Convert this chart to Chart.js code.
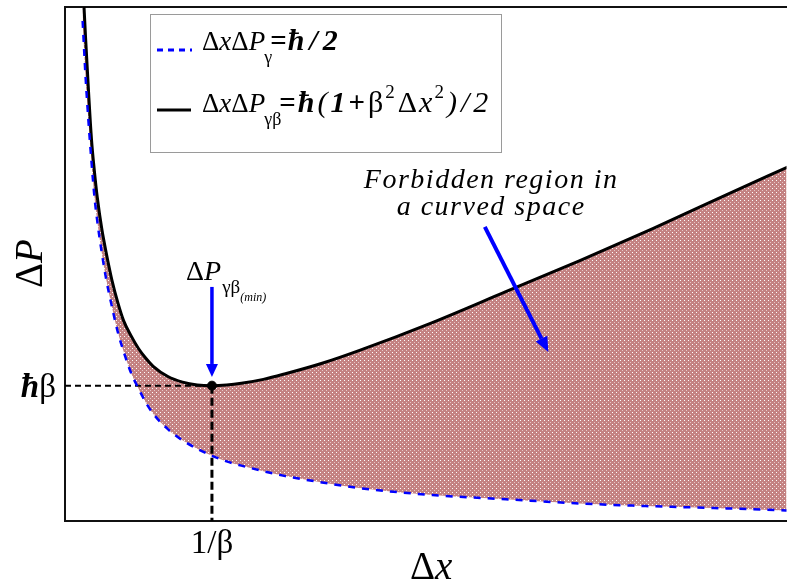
<!DOCTYPE html>
<html><head><meta charset="utf-8">
<script src="https://cdn.jsdelivr.net/npm/chart.js@4.4.1/dist/chart.umd.min.js"></script>
<style>html,body{margin:0;padding:0;background:#fff;}canvas{display:block;}</style>
</head><body>
<canvas id="c" width="792" height="586"></canvas>
<script>
// ---- data (units: x in 1/β, y in ħβ) ----
const dx = [0.12,0.14,0.16,0.18,0.20,0.22,0.25,0.28,0.32,0.36,0.40,0.45,0.50,0.55,0.60,0.70,0.80,0.90,1.00,1.10,1.20,1.35,1.50,1.75,2.00,2.50,3.00,3.50,4.00,4.50,4.92];
const dpGamma = [3.60,3.20,2.88,2.60,2.35,2.17,1.95,1.76,1.56,1.38,1.24,1.09,0.98,0.88,0.80,0.69,0.61,0.55,0.50,0.46,0.43,0.39,0.355,0.31,0.27,0.22,0.19,0.16,0.14,0.125,0.11];
const dpGammaBeta = [3.90,3.48,3.10,2.76,2.53,2.34,2.12,1.95,1.75,1.59,1.46,1.355,1.265,1.195,1.138,1.065,1.025,1.005,1.00,1.005,1.017,1.045,1.085,1.16,1.25,1.45,1.67,1.89,2.12,2.36,2.56];
const minPoint = [1, 1];
const xTickValues = [1];
const xTickLabels = ['1/β'];
const yTickValues = [1];
const yTickLabels = ['ħβ'];
const xRange = [0, 4.91];
const yRange = [0.035, 3.7];
const xTitle = ['Δ', 'x'];
const yTitle = ['Δ', 'P'];
const legendLabels = ['ΔxΔP_γ=ħ/2', 'ΔxΔP_γβ=ħ(1+β²Δx²)/2'];
const noteText = ['Forbidden region in', 'a curved space'];
const noteAt = [2.9, 2.41];
const noteArrow = [[2.857, 2.132], [3.289, 1.24]];
const minArrow = [[1, 1.704], [1, 1.062]];
const minLabelAt = [0.824, 1.754];

const SERIF = '"Liberation Serif","Times New Roman",serif';
const f = (style, size) => style + ' ' + size + 'px ' + SERIF;

function makePattern() {
  const p = document.createElement('canvas');
  p.width = 4; p.height = 4;
  const g = p.getContext('2d');
  g.fillStyle = 'rgb(196,130,130)'; g.fillRect(0, 0, 4, 4);
  g.fillStyle = '#ffffff'; g.fillRect(0, 0, 1, 1);
  g.fillStyle = 'rgb(232,200,200)'; g.fillRect(2, 2, 1, 1);
  return document.getElementById('c').getContext('2d').createPattern(p, 'repeat');
}

function runs(ctx, x, y, list) {
  for (const r of list) {
    ctx.font = r.f;
    ctx.letterSpacing = (r.ls || 0) + 'px';
    ctx.fillText(r.t, x + (r.dx || 0), y + (r.dy || 0));
    x += ctx.measureText(r.t).width + (r.dx || 0);
  }
  ctx.letterSpacing = '0px';
  return x;
}

function arrow(ctx, x1, y1, x2, y2, w, hl, hw) {
  const ang = Math.atan2(y2 - y1, x2 - x1);
  const bx = x2 - hl * Math.cos(ang), by = y2 - hl * Math.sin(ang);
  ctx.strokeStyle = '#0000ff'; ctx.fillStyle = '#0000ff'; ctx.lineWidth = w;
  ctx.setLineDash([]);
  ctx.beginPath(); ctx.moveTo(x1, y1); ctx.lineTo(bx, by); ctx.stroke();
  ctx.beginPath();
  ctx.moveTo(x2, y2);
  ctx.lineTo(bx + hw / 2 * Math.sin(ang), by - hw / 2 * Math.cos(ang));
  ctx.lineTo(bx - hw / 2 * Math.sin(ang), by + hw / 2 * Math.cos(ang));
  ctx.closePath(); ctx.fill();
}

const annot = {
  id: 'annot',
  afterDraw(chart) {
    const { ctx, chartArea: a, scales: { x, y } } = chart;
    ctx.save();
    ctx.fillStyle = '#000';
    ctx.textBaseline = 'alphabetic';
    ctx.textAlign = 'left';
    // y tick label (ħ bold italic + β)
    yTickValues.forEach((v, i) => {
      const lab = yTickLabels[i];
      const py = y.getPixelForValue(v);
      ctx.font = f('italic bold', 33);
      const w1 = ctx.measureText(lab[0]).width;
      ctx.font = f('', 33);
      const w2 = ctx.measureText(lab.slice(1)).width;
      runs(ctx, a.left - 9 - w1 - w2, py + 11, [
        { t: lab[0], f: f('italic bold', 33) }, { t: lab.slice(1), f: f('', 33) }]);
    });
    // axis titles
    runs(ctx, 410, 579, [{ t: xTitle[0], f: f('', 39) }, { t: xTitle[1], f: f('italic', 39) }]);
    ctx.save();
    ctx.translate(42, 288);
    ctx.rotate(-Math.PI / 2);
    runs(ctx, 0, 0, [{ t: yTitle[0], f: f('', 39) }, { t: yTitle[1], f: f('italic', 39) }]);
    ctx.restore();

    // legend
    ctx.fillStyle = '#fff';
    ctx.fillRect(150, 14, 351, 138);
    ctx.strokeStyle = '#9a9a9a'; ctx.lineWidth = 1;
    ctx.strokeRect(150.5, 14.5, 351, 138);
    ctx.lineWidth = 3;
    ctx.strokeStyle = '#0000ff'; ctx.setLineDash([6, 5]);
    ctx.beginPath(); ctx.moveTo(157, 50); ctx.lineTo(192, 50); ctx.stroke();
    ctx.setLineDash([]); ctx.strokeStyle = '#000';
    ctx.beginPath(); ctx.moveTo(157, 110); ctx.lineTo(191, 110); ctx.stroke();
    ctx.fillStyle = '#000';
    const R = f('', 27), I = f('italic', 27), S = f('', 18);
    const BI = f('italic bold', 30), B = f('bold', 29), R2 = f('', 30), I2 = f('italic', 30), S2 = f('', 19);
    runs(ctx, 202, 50, [
      { t: 'Δ', f: R }, { t: 'x', f: I }, { t: 'Δ', f: R }, { t: 'P', f: I },
      { t: 'γ', f: S, dy: 13, dx: -1 }, { t: '=', f: B, dx: -2, ls: 1 }, { t: 'ħ/2', f: BI, ls: 5 }]);
    runs(ctx, 202, 112, [
      { t: 'Δ', f: R }, { t: 'x', f: I }, { t: 'Δ', f: R }, { t: 'P', f: I },
      { t: 'γβ', f: S, dy: 13, dx: -1 }, { t: '=', f: B, dx: -2, ls: 2 }, { t: 'ħ', f: BI, ls: 3 },
      { t: '(', f: I2, ls: 3 }, { t: '1', f: BI, ls: 3 }, { t: '+', f: B, ls: 3 }, { t: 'β', f: R2, ls: 2 },
      { t: '2', f: S2, dy: -14, ls: 3 }, { t: 'Δ', f: R2, ls: 2 }, { t: 'x', f: I2, ls: 2 }, { t: '2', f: S2, dy: -14, ls: 3 },
      { t: ')/2', f: I2, ls: 4 }]);

    // forbidden region note
    ctx.font = f('italic', 28);
    ctx.letterSpacing = '1.5px';
    ctx.textAlign = 'center';
    const nx = x.getPixelForValue(noteAt[0]), ny = y.getPixelForValue(noteAt[1]);
    ctx.fillText(noteText[0], nx, ny);
    ctx.fillText(noteText[1], nx, ny + 27);
    ctx.letterSpacing = '0px';
    ctx.textAlign = 'left';
    arrow(ctx, x.getPixelForValue(noteArrow[0][0]), y.getPixelForValue(noteArrow[0][1]),
      x.getPixelForValue(noteArrow[1][0]), y.getPixelForValue(noteArrow[1][1]), 4, 15, 13);
    arrow(ctx, x.getPixelForValue(minArrow[0][0]), y.getPixelForValue(minArrow[0][1]),
      x.getPixelForValue(minArrow[1][0]), y.getPixelForValue(minArrow[1][1]), 3.5, 13, 12);

    // min label
    const mx = x.getPixelForValue(minLabelAt[0]), my = y.getPixelForValue(minLabelAt[1]);
    ctx.fillStyle = '#000';
    const ex = runs(ctx, mx, my, [{ t: 'Δ', f: f('', 28) }, { t: 'P', f: f('italic', 28) },
      { t: 'γβ', f: f('', 19), dy: 13, dx: 1 }]);
    runs(ctx, ex, my + 21, [{ t: '(min)', f: f('italic', 12) }]);
    ctx.restore();
  }
};

const pts = (ys) => dx.map((v, i) => ({ x: v, y: ys[i] }));

new Chart(document.getElementById('c'), {
  type: 'line',
  data: {
    datasets: [
      { label: legendLabels[0], data: pts(dpGamma), borderColor: '#0000ff', borderWidth: 2.5,
        borderDash: [7, 7], pointRadius: 0, fill: false, cubicInterpolationMode: 'monotone' },
      { label: legendLabels[1], data: pts(dpGammaBeta), borderColor: '#000', borderWidth: 3,
        pointRadius: 0, fill: { target: 0 }, backgroundColor: makePattern(), cubicInterpolationMode: 'monotone' },
      { label: 'h', data: [{ x: xRange[0], y: minPoint[1] }, { x: minPoint[0], y: minPoint[1] }],
        borderColor: '#000', borderWidth: 2, borderDash: [6, 4], pointRadius: 0, fill: false },
      { label: 'v', data: [{ x: minPoint[0], y: minPoint[1] }, { x: minPoint[0], y: yRange[0] }],
        borderColor: '#000', borderWidth: 3, borderDash: [8, 4], pointRadius: 0, fill: false },
      { label: 'min', data: [{ x: minPoint[0], y: minPoint[1] }], showLine: false,
        pointRadius: 4.5, pointBackgroundColor: '#000', pointBorderColor: '#000', borderColor: '#000' }
    ]
  },
  options: {
    responsive: false, animation: false, devicePixelRatio: 1,
    layout: { padding: 0 },
    plugins: { legend: { display: false }, tooltip: { enabled: false }, filler: { drawTime: 'beforeDatasetsDraw' } },
    scales: {
      x: {
        type: 'linear', position: 'bottom', min: xRange[0], max: xRange[1],
        grid: { display: false, drawTicks: false },
        border: { display: true, color: '#111', width: 2 },
        ticks: { color: '#000', font: { family: SERIF, size: 33 }, padding: 4,
          callback: (v, i) => xTickLabels[i] },
        afterBuildTicks: (s) => { s.ticks = xTickValues.map(v => ({ value: v })); },
        afterFit: (s) => { s.height = 65; }
      },
      x2: {
        type: 'linear', position: 'top', min: xRange[0], max: xRange[1],
        grid: { display: false, drawTicks: false },
        border: { display: true, color: '#111', width: 2 },
        ticks: { display: false },
        afterFit: (s) => { s.height = 7; }
      },
      y: {
        type: 'linear', position: 'left', min: yRange[0], max: yRange[1],
        grid: { display: false, drawTicks: false },
        border: { display: true, color: '#111', width: 2 },
        ticks: { display: false },
        afterFit: (s) => { s.width = 65; }
      }
    }
  },
  plugins: [annot]
});
</script>
</body></html>
